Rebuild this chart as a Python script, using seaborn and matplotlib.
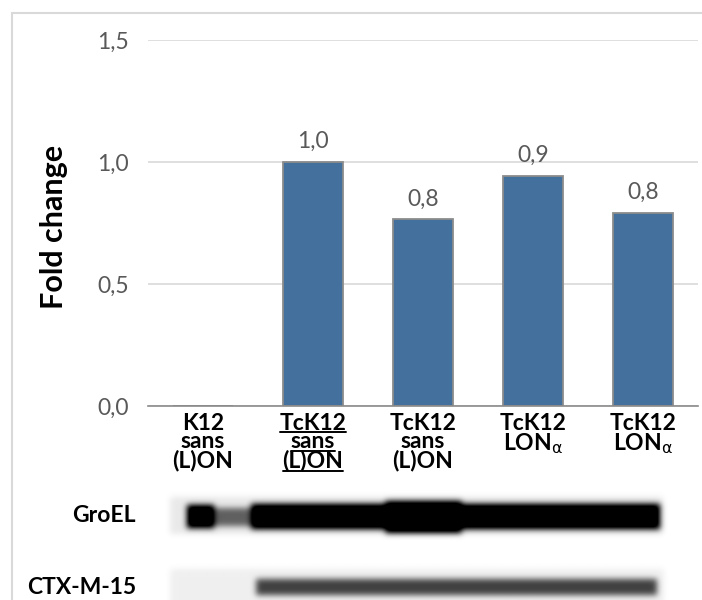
import matplotlib
matplotlib.use("Agg")
import matplotlib.pyplot as plt
import seaborn as sns
import pandas as pd
import numpy as np
from matplotlib.patches import Rectangle
from matplotlib.lines import Line2D
from matplotlib.text import Text

# ---- data ----
categories = ["K12\nsans\n(L)ON", "TcK12\nsans\n(L)ON", "TcK12\nsans\n(L)ON",
              "TcK12\nLON$_{\\mathrm{\\alpha}}$", "TcK12\nLON$_{\\mathrm{\\alpha}}$"]
fold_change = [0.0, 1.0, 0.766, 0.943, 0.791]
value_labels = ["", "1,0", "0,8", "0,9", "0,8"]
yticks = [0.0, 0.5, 1.0, 1.5]
ytick_labels = ["0,0", "0,5", "1,0", "1,5"]
underlined = [False, True, False, False, False]

sns.set_theme(style="white")
plt.rcParams['font.family'] = ['Lato', 'DejaVu Sans']
plt.rcParams['mathtext.fontset'] = 'dejavusans'

W, H = 702, 600
fig = plt.figure(figsize=(W / 100, H / 100), dpi=100)

# figure border
fig.patches.append(Rectangle((12 / W, -0.01), 1.0, (H - 13) / H + 0.01,
                             transform=fig.transFigure, fill=False,
                             edgecolor="#d9d9d9", linewidth=1.5, zorder=0))

ax = fig.add_axes([148 / W, 1 - 406 / H, 550 / W, 366 / H])
df = pd.DataFrame({"cat": [f"c{i}" for i in range(len(categories))], "val": fold_change})
sns.barplot(data=df, x="cat", y="val", ax=ax, color="#44709D", width=0.54,
            edgecolor="#8c8c8c", linewidth=1.3, saturation=1)
ax.set_xlim(-0.5, len(categories) - 0.5)
ax.set_ylim(0, 1.5)
ax.set_yticks(yticks)
ax.set_yticklabels(ytick_labels, color="#595959", fontsize=16.5)
ax.tick_params(axis="y", length=0, pad=14)
ax.tick_params(axis="x", length=0, pad=5)
ax.set_xticks(range(len(categories)))
ax.set_xticklabels(categories, fontsize=16.5, fontweight="bold", color="black",
                   linespacing=0.85, va="top")
for s in ["top", "right", "left"]:
    ax.spines[s].set_visible(False)
ax.spines["bottom"].set_color("#8a8a8a")
ax.spines["bottom"].set_linewidth(1.2)
ax.grid(axis="y", color="#d9d9d9", linewidth=1.2)
ax.set_axisbelow(True)
ax.set_xlabel("")
ax.set_ylabel("Fold change", fontsize=22, fontweight="bold", color="black")
ax.yaxis.set_label_coords(-0.145, 0.49)

for i, (v, lab) in enumerate(zip(fold_change, value_labels)):
    if lab:
        ax.annotate(lab, (i, v), xytext=(0, 7), textcoords="offset points",
                    ha="center", va="bottom", fontsize=16.5, color="#595959")

# underline for the reference label
fig.canvas.draw()
renderer = fig.canvas.get_renderer()
for tl, ul in zip(ax.get_xticklabels(), underlined):
    if not ul:
        continue
    bb = tl.get_window_extent(renderer)
    lines = tl.get_text().split("\n")
    n = len(lines)
    lh = bb.height / n
    cx = (bb.x0 + bb.x1) / 2
    for k, line in enumerate(lines):
        t = Text(0, 0, line, fontproperties=tl.get_fontproperties())
        t.set_figure(fig)
        w = t.get_window_extent(renderer).width
        y = bb.y1 - (k + 1) * lh + 0.5
        fig.add_artist(Line2D([(cx - w / 2) / W, (cx + w / 2) / W], [y / H, y / H],
                              transform=fig.transFigure, color="black", linewidth=1.4))

# ---- western blot panel (decorative image) ----
bax = fig.add_axes([148 / W, 0, 550 / W, 120 / H])
ncol, nrow = 550, 120
xs = np.linspace(-0.5, len(categories) - 0.5, ncol)
ys = np.arange(480, 600) + 0.5
X, Y = np.meshgrid(xs, ys)
img = np.zeros((nrow, ncol))

def box(x0, x1, y0, y1, val):
    m = (X >= x0) & (X <= x1) & (Y >= y0) & (Y <= y1)
    img[m] = np.maximum(img[m], val)

# light strips
box(-0.3, 4.18, 497, 534, 0.07)
box(-0.3, 4.19, 569, 600, 0.05)
# GroEL bands
box(-0.15, 0.10, 505, 528, 1.0)
box(0.10, 0.45, 508, 526, 0.5)
box(0.43, 4.15, 504, 529, 1.0)
box(1.65, 2.35, 501, 533, 1.0)
# CTX-M-15 bands
box(0.48, 4.12, 579, 595, 0.6)

def blur(a, s):
    r = int(3 * s)
    k = np.exp(-0.5 * (np.arange(-r, r + 1) / s) ** 2)
    k /= k.sum()
    a = np.apply_along_axis(lambda v: np.convolve(np.pad(v, r, mode="edge"), k, mode="valid"), 1, a)
    a = np.apply_along_axis(lambda v: np.convolve(np.pad(v, r, mode="edge"), k, mode="valid"), 0, a)
    return a

img = blur(img, 3.0)
img = np.clip(img * 1.25, 0, 1)
bax.imshow(img, cmap="gray_r", vmin=0, vmax=1, aspect="auto",
           extent=(-0.5, len(categories) - 0.5, 600, 480), interpolation="bilinear")
bax.set_xlim(-0.5, len(categories) - 0.5)
bax.set_ylim(600, 480)
bax.axis("off")

fig.text(136 / W, 1 - 515 / H, "GroEL", ha="right", va="center",
         fontsize=16.5, fontweight="bold", color="black")
fig.text(136 / W, 1 - 587 / H, "CTX-M-15", ha="right", va="center",
         fontsize=16.5, fontweight="bold", color="black")

fig.savefig("out.png", dpi=100)
